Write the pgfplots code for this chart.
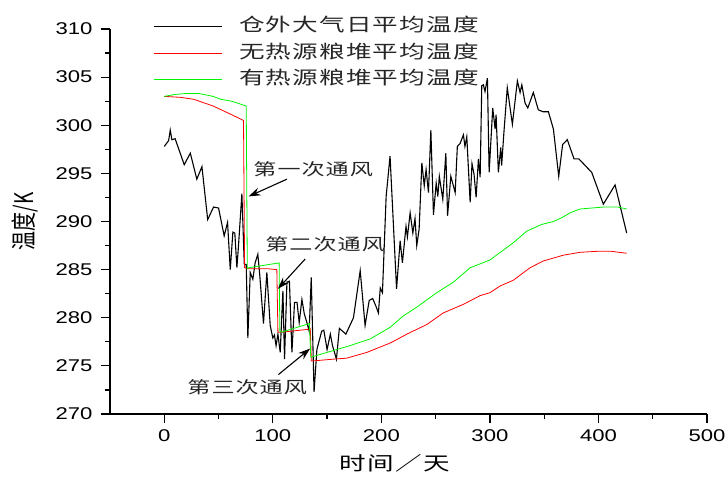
\documentclass[border=0pt]{standalone}
\usepackage{fontspec}
\setmainfont{Liberation Sans}[FakeStretch=1.3]
\newfontfamily\cjk{Noto Sans CJK SC}[FakeStretch=1.4, LetterSpace=6]
\newfontfamily\cjkn{Noto Sans CJK SC}
\usepackage{pgfplots}
\pgfplotsset{compat=1.18}
\usetikzlibrary{arrows.meta}
\definecolor{lgreen}{RGB}{0,245,0}
\definecolor{lred}{RGB}{255,0,0}
\begin{document}
\begin{tikzpicture}
\useasboundingbox (-110bp,-65bp) rectangle (615bp,414bp);
\begin{axis}[
  scale only axis, width=597bp, height=385bp,
  xmin=-50, xmax=500, ymin=270, ymax=310,
  axis x line=bottom, axis y line=left,
  axis line style={-, line width=1.6bp},
  xtick={0,100,...,500}, ytick={270,275,...,310},
  minor x tick num=1, minor y tick num=1,
  tick align=outside, major tick length=9bp, minor tick length=5bp,
  tick style={black, line width=1.2bp},
  /pgf/number format/assume math mode=true,
  /pgf/number format/1000 sep={},
  ticklabel style={font=\fontsize{17bp}{19bp}\selectfont},
  xticklabel style={yshift=-3bp},
  yticklabel style={xshift=-5bp},
  xlabel={\cjk 时间／天},
  ylabel={\scalebox{1}[1.35]{\cjkn 温度/K}},
  xlabel style={font=\fontsize{19bp}{21bp}\selectfont, at={(axis description cs:0.477,-0.127)}, anchor=center},
  ylabel style={font=\fontsize{19bp}{21bp}\selectfont, at={(axis description cs:-0.142,0.50)}, anchor=center},
  legend style={at={(axis description cs:0.067,1.033)}, anchor=north west, draw=none, fill=none,
    font=\cjk\fontsize{18.3bp}{20bp}\selectfont, row sep=10.7bp,
    nodes={inner sep=0pt, text height=13bp, text depth=3bp, text=black!85}},
  legend cell align=left,
  legend image code/.code={\draw[#1] (0bp,0bp) -- (68bp,0bp); \path (85bp,0bp);},
  clip=false,
]
\addplot[black, line width=1.1bp] coordinates {
(0,297.8) (4,298.4) (5.5,299.5) (7,298.5) (10,298.6) (18.4,295.9) (24,297.1) (30,294.4) (34.7,295.7) (40,290.2)
(45.4,291.5) (50,291.4) (55.2,288.5) (58.3,289.9) (60.8,285.0) (63.2,288.9) (65,288.8) (66.9,285.2) (68.4,287.5) (71.5,292.9)
(73.7,285.6) (75.5,285.5) (77,277.9) (79.2,284.7) (81.6,284.0) (83.7,285.7) (86.2,286.6) (88,284.4) (91.4,279.4) (94.5,284.7)
(97.6,279.2) (100,277.9) (101.5,278.2) (103,277.1) (104.7,278.3) (106.8,276.4) (109.3,282.8) (110.8,275.7) (113,283.7) (115.3,283.8)
(117.6,276.4) (120,281.6) (122.3,281.6) (124.3,279.5) (126.8,281.9) (129,280.4) (131.4,279.5) (133.5,278.6) (135.4,284.2) (138,272.3)
(140.6,276.7) (145,278.6) (147,278.7) (150,276.7) (153,278.3) (155,277.1) (158.6,275.7) (161.3,278.9) (167.3,278.3) (174.3,280.0)
(180.5,284.9) (185,279.2) (188.8,281.8) (192,282.0) (195,281.2) (197.3,280.5) (199,283.1) (201,282.6) (204.4,292.6) (208,296.8)
(214,283.0) (217.3,288.0) (219.4,285.7) (222.7,289.5) (224,288.4) (226.5,290.9) (229,288.8) (231,290.3) (232.6,287.5) (234.8,289.2)
(237.3,296.1) (239.5,293.7) (241.2,295.4) (243.4,293.0) (245.6,299.5) (248,290.7) (250.5,294.0) (252,292.6) (253.4,294.7) (256.6,292.3)
(259.4,297.1) (261,290.6) (264,294.7) (268,293.0) (270,297.8) (272.5,298.1) (275.6,299.0) (277,297.8) (278.7,298.8) (281.8,292.0)
(283.5,296.0) (285.4,294.9) (287.3,292.5) (289.4,296.5) (291,294.6) (292.5,304.1) (294,304.2) (295.5,303.5) (297.7,304.9) (299.3,295.1)
(302.6,301.8) (304.8,299.6) (305.7,301.1) (307.8,295.1) (310,297.7) (310.8,295.8) (313,299.4) (316,303.9) (320.7,300.1) (325.3,304.6)
(327.8,303.4) (329.4,304.2) (332.4,302.3) (334.9,301.8) (340,303.4) (344.6,301.6) (349,301.4) (353.9,301.4) (358.5,299.6) (363.4,294.7)
(367,298.0) (371.3,298.5) (377.5,296.5) (382,296.5) (393.8,295.1) (404.5,291.8) (415.3,293.8) (426,288.8)
};
\addlegendentry{仓外大气日平均温度}
\addplot[lred, line width=0.8bp] coordinates {
(0,303.0) (15,302.9) (27,302.7) (45,302.0) (62,301.1) (73,300.5) (74,285.2) (78,285.1) (95,285.1) (103.7,285.0)
(104.7,278.5) (108.3,278.5) (132.8,278.8) (134.5,278.9) (135.5,275.5) (155.9,275.7) (168,275.8) (186.6,276.4) (206.5,277.3) (212,277.6)
(223.5,278.3) (241.9,279.3) (257,280.5) (275.7,281.4) (291,282.3) (300,282.6) (309.4,283.3) (321.6,283.9) (337,285.2) (349.2,285.9)
(367.7,286.5) (383,286.8) (398.4,286.9) (412,286.9) (426,286.7)
};
\addlegendentry{无热源粮堆平均温度}
\addplot[lgreen, line width=0.8bp] coordinates {
(0,303.0) (10,303.2) (20,303.3) (32,303.3) (45,303.0) (52,302.7) (62,302.5) (75.5,302.0) (76.5,285.1) (78,285.2)
(105.8,285.7) (106.5,278.6) (108,278.5) (133.7,279.4) (135,275.9) (155.9,276.6) (171,277.1) (189.7,277.8) (208,279.0) (220.3,280.2)
(232.6,281.1) (251,282.6) (266.4,283.7) (281.8,285.2) (291,285.6) (300,286.0) (310.8,286.9) (321.6,287.8) (334,289.0) (347.8,289.7)
(358.5,290.0) (366.2,290.4) (373.9,290.9) (383,291.3) (404.5,291.5) (418,291.5) (426,291.3)
};
\addlegendentry{有热源粮堆平均温度}
\node[anchor=west, inner sep=0pt, text=black!85, font=\cjk\fontsize{16.5bp}{18bp}\selectfont] at (axis cs:82,295.4) {第一次通风};
\node[anchor=west, inner sep=0pt, text=black!85, font=\cjk\fontsize{16.5bp}{18bp}\selectfont] at (axis cs:93,287.6) {第二次通风};
\node[anchor=west, inner sep=0pt, text=black!85, font=\cjk\fontsize{16.5bp}{18bp}\selectfont] at (axis cs:21.2,272.8) {第三次通风};
\draw[-{Stealth[length=12bp,width=8bp]}, line width=1.1bp] (axis cs:113,294.4) -- (axis cs:77.6,292.6);
\draw[-{Stealth[length=12bp,width=8bp]}, line width=1.1bp] (axis cs:129.8,286.1) -- (axis cs:104.7,283.0);
\draw[-{Stealth[length=12bp,width=8bp]}, line width=1.1bp] (axis cs:105.2,274.1) -- (axis cs:134.4,276.8);
\end{axis}
\end{tikzpicture}
\end{document}
